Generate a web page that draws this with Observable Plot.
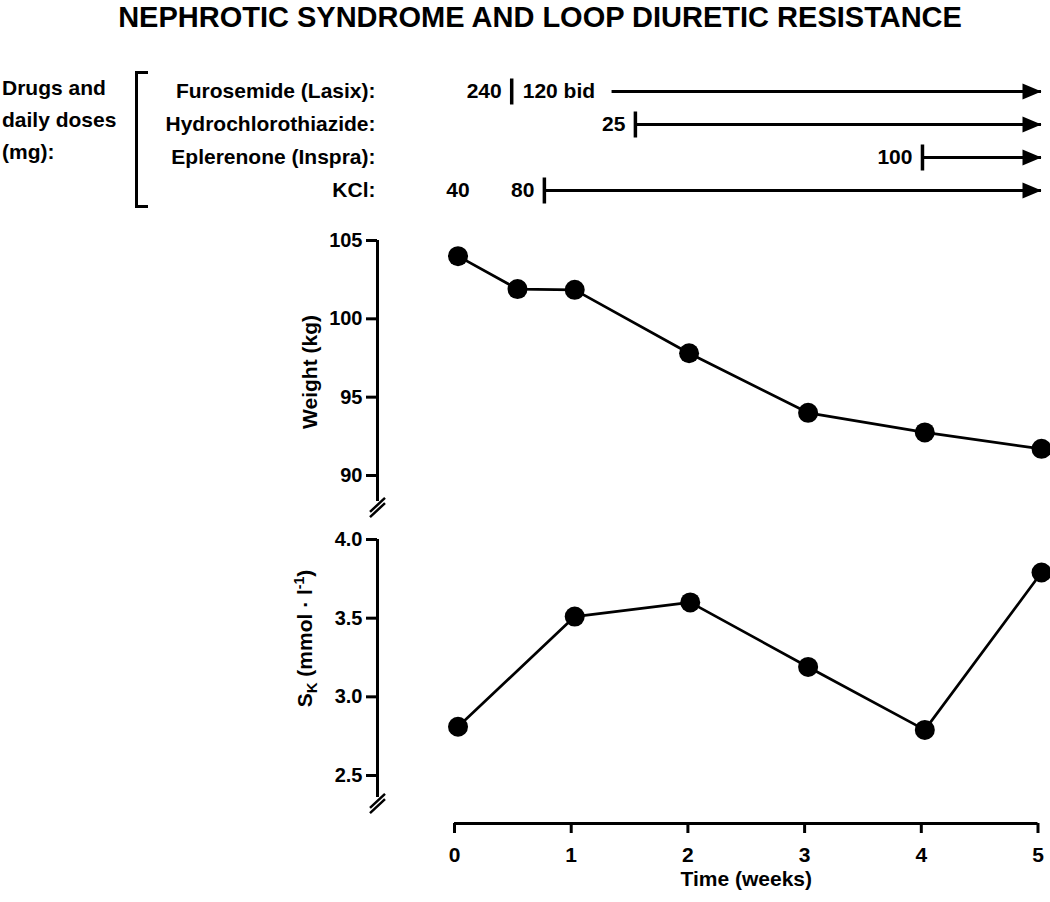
<!DOCTYPE html>
<html>
<head>
<meta charset="utf-8">
<script src="https://cdn.jsdelivr.net/npm/d3@7"></script>
<script src="https://cdn.jsdelivr.net/npm/@observablehq/plot@0.6"></script>
<style>
  body { margin: 0; background: #fff; }
  #chart { position: relative; width: 1050px; height: 902px; background: #fff; color: #000;
    font-family: 'Liberation Sans', Arial, Helvetica, sans-serif; font-weight: bold; overflow: hidden; }
  #title { position: absolute; left: 0; top: 3px; width: 1080px; text-align: center; font-size: 29px; line-height: 29px; white-space: nowrap; }
  #caption { position: absolute; left: 2px; top: 72px; font-size: 21px; line-height: 32px; }
  #bracket { position: absolute; left: 135px; top: 71px; width: 10px; height: 131px; border: 3px solid #000; border-right: none; }
</style>
</head>
<body>
<div id="chart">
  <div id="title">NEPHROTIC SYNDROME AND LOOP DIURETIC RESISTANCE</div>
  <div id="caption">Drugs and<br>daily doses<br>(mg):</div>
  <div id="bracket"></div>
</div>
<script>
// ---------- data ----------
const drugs = ["Furosemide (Lasix)", "Hydrochlorothiazide", "Eplerenone (Inspra)", "KCl"];
const therapyStart = [1.35, 1.55, 4.01, 0.77];   // weeks where the arrow line begins
const therapyEnd = [5.03, 5.03, 5.03, 5.03];     // weeks where the arrow ends
const changeDrug = ["Furosemide (Lasix)", "Hydrochlorothiazide", "Eplerenone (Inspra)", "KCl"];
const changeWeek = [0.49, 1.55, 4.01, 0.77];     // dose change / start markers

const doseDrug = ["Furosemide (Lasix)", "Furosemide (Lasix)", "Hydrochlorothiazide", "Eplerenone (Inspra)", "KCl", "KCl"];
const doseWeek = [0.49, 0.49, 1.55, 4.01, 0.03, 0.77];
const doseText = ["240", "120 bid", "25", "100", "40", "80"];
const doseSide = ["before", "after", "before", "before", "at", "before"];

const weightWeek = [0.03, 0.54, 1.03, 2.01, 3.03, 4.03, 5.03];
const weightKg = [104.0, 101.9, 101.85, 97.8, 94.0, 92.75, 91.7];

const skWeek = [0.03, 1.03, 2.02, 3.03, 4.03, 5.03];
const skValue = [2.81, 3.51, 3.60, 3.19, 2.79, 3.79];

const xTicks = [0, 1, 2, 3, 4, 5];
const weightTicks = [90, 95, 100, 105];
const skTicks = [2.5, 3.0, 3.5, 4.0];

const weightLabel = "Weight (kg)";
const skLabel = "SK (mmol · l-1)";
const timeLabel = "Time (weeks)";

// ---------- layout constants ----------
const FONT = "'Liberation Sans', Arial, Helvetica, sans-serif";
const xLeft = -0.66;               // y axes sit left of week 0
const weightDomain = [88.34, 105];
const skDomain = [2.195, 4.0];
const skAxisFloor = 2.36;

const therapy = drugs.map((d, i) => ({drug: d, start: therapyStart[i], end: therapyEnd[i]}));
const changes = changeDrug.map((d, i) => ({drug: d, week: changeWeek[i]}));
const doses = doseDrug.map((d, i) => ({drug: d, week: doseWeek[i], text: doseText[i], side: doseSide[i]}));
const weight = weightWeek.map((w, i) => ({week: w, kg: weightKg[i]}));
const sk = skWeek.map((w, i) => ({week: w, value: skValue[i]}));

const arrowHead = {draw(ctx) { ctx.moveTo(0, 0); ctx.lineTo(-19, -8); ctx.lineTo(-19, 8); ctx.closePath(); }};
const vBar = {draw(ctx) { ctx.moveTo(0, -13); ctx.lineTo(0, 13); }};
const axisBreak = {draw(ctx) {
  for (const o of [-2.6, 2.6]) { ctx.moveTo(-7.5, 7 + o); ctx.lineTo(7.5, -7 + o); }
}};

const base = (top) => ({
  position: "absolute", left: "0px", top: top + "px",
  fontFamily: FONT, fontSize: "20px", fontWeight: "bold", color: "#000",
  background: "transparent", overflow: "visible"
});
const common = {width: 1050, marginLeft: 377, marginRight: 12.5};

// ---------- drug panel ----------
const drugPlot = Plot.plot({
  ...common, height: 160, marginTop: 30, marginBottom: 30,
  style: {...base(60), fontSize: "21px"},
  x: {domain: [xLeft, 5], axis: null},
  y: {type: "point", domain: drugs, padding: 0, axis: null},
  marks: [
    Plot.text(drugs, {y: d => d, frameAnchor: "left", textAnchor: "end", dx: -2, text: d => d + ":"}),
    Plot.ruleY(therapy, {y: "drug", x1: "start", x2: "end", strokeWidth: 3}),
    Plot.dot(therapy, {x: "end", y: "drug", symbol: arrowHead, fill: "#000", stroke: null, r: 8}),
    Plot.dot(changes, {x: "week", y: "drug", symbol: vBar, fill: "none", stroke: "#000", strokeWidth: 3.5, r: 8}),
    Plot.text(doses.filter(d => d.side === "before"), {x: "week", y: "drug", text: "text", textAnchor: "end", dx: -10}),
    Plot.text(doses.filter(d => d.side === "after"), {x: "week", y: "drug", text: "text", textAnchor: "start", dx: 11}),
    Plot.text(doses.filter(d => d.side === "at"), {x: "week", y: "drug", text: "text", textAnchor: "middle"})
  ]
});

// ---------- weight panel ----------
const weightPlot = Plot.plot({
  ...common, height: 300, marginTop: 20, marginBottom: 19,
  style: base(220),
  x: {domain: [xLeft, 5], axis: null},
  y: {domain: weightDomain},
  marks: [
    Plot.ruleX([xLeft], {strokeWidth: 3}),
    Plot.axisY({ticks: weightTicks, tickFormat: d3.format("d"), tickSize: 11, tickPadding: 4, strokeWidth: 3, label: null, fontSize: 20}),
    Plot.dot([{x: xLeft, y: weightDomain[0]}], {x: "x", y: "y", symbol: axisBreak, fill: "none", stroke: "#000", strokeWidth: 2.5, dy: 6, r: 8}),
    Plot.line(weight, {x: "week", y: "kg", strokeWidth: 2.7}),
    Plot.dot(weight, {x: "week", y: "kg", r: 10, fill: "#000", stroke: null}),
    Plot.text([weightLabel], {frameAnchor: "left", textAnchor: "middle", rotate: -90, dx: -67, dy: 1, fontSize: 21})
  ]
});

// ---------- serum potassium panel ----------
const skPlot = Plot.plot({
  ...common, height: 382, marginTop: 19, marginBottom: 79,
  style: base(520),
  x: {domain: [xLeft, 5]},
  y: {domain: skDomain},
  marks: [
    Plot.ruleX([xLeft], {y1: skAxisFloor, y2: skDomain[1], strokeWidth: 3}),
    Plot.axisY({ticks: skTicks, tickFormat: d3.format(".1f"), tickSize: 11, tickPadding: 4, strokeWidth: 3, label: null, fontSize: 20}),
    Plot.dot([{x: xLeft, y: skAxisFloor}], {x: "x", y: "y", symbol: axisBreak, fill: "none", stroke: "#000", strokeWidth: 2.5, dy: 6, r: 8}),
    Plot.ruleY([skDomain[0]], {x1: xTicks[0], x2: xTicks[xTicks.length - 1], strokeWidth: 3}),
    Plot.axisX({ticks: xTicks, tickFormat: d3.format("d"), tickSize: 10, tickPadding: 14, strokeWidth: 3, label: null, fontSize: 21}),
    Plot.line(sk, {x: "week", y: "value", strokeWidth: 2.7}),
    Plot.dot(sk, {x: "week", y: "value", r: 10, fill: "#000", stroke: null}),
    Plot.text([timeLabel], {x: d3.mean(xTicks), frameAnchor: "bottom", dy: 62, fontSize: 21}),
    Plot.text([skLabel], {frameAnchor: "left", textAnchor: "middle", rotate: -90, dx: -72, dy: -43, fontSize: 21})
  ]
});

// subscript / superscript in the S_K label
d3.select(skPlot).selectAll("text").filter(function() { return this.textContent === skLabel; })
  .each(function() {
    const t = d3.select(this);
    t.text(null);
    t.append("tspan").text("S");
    t.append("tspan").attr("dy", 5).attr("font-size", 15).text("K");
    t.append("tspan").attr("dy", -5).text(" (mmol · l");
    t.append("tspan").attr("dy", -8).attr("font-size", 14).text("-1");
    t.append("tspan").attr("dy", 8).text(")");
  });

const chart = document.getElementById("chart");
chart.append(drugPlot, weightPlot, skPlot);
</script>
</body>
</html>
